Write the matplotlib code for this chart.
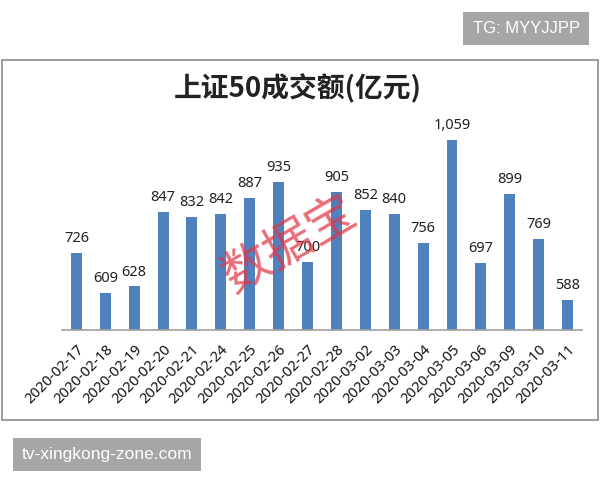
import matplotlib.pyplot as plt
from matplotlib.patches import Rectangle

# datos
dates = ['2020-02-17', '2020-02-18', '2020-02-19', '2020-02-20', '2020-02-21',
         '2020-02-24', '2020-02-25', '2020-02-26', '2020-02-27', '2020-02-28',
         '2020-03-02', '2020-03-03', '2020-03-04', '2020-03-05', '2020-03-06',
         '2020-03-09', '2020-03-10', '2020-03-11']
values = [726, 609, 628, 847, 832, 842, 887, 935, 700, 905,
          852, 840, 756, 1059, 697, 899, 769, 588]
title = '上证50成交额(亿元)'

plt.rcParams['font.family'] = ['Noto Sans', 'Noto Sans CJK SC', 'DejaVu Sans']

fig = plt.figure(figsize=(6, 4.8), dpi=100)
fig.patch.set_facecolor('white')

# marco del grafico
fig.patches.append(Rectangle((0.004, 0.125), 0.992, 0.75, transform=fig.transFigure,
                             fill=False, edgecolor='#8c8c8c', linewidth=1.2))

ax = fig.add_axes([0.1033, 0.3125, 0.8667, 0.425])
x = range(len(values))
bars = ax.bar(x, values, width=0.38, color='#4f81bd', bottom=0)
ax.set_xlim(-0.5, len(values) - 0.5)
ax.set_ylim(500, 1100)

for xi, v in zip(x, values):
    ax.annotate(f'{v:,}', (xi, v), xytext=(0, 5), textcoords='offset points',
                ha='center', va='bottom', fontsize=10.5, color='#222222',
                annotation_clip=False)

for s in ['top', 'right', 'left']:
    ax.spines[s].set_visible(False)
ax.spines['bottom'].set_color('#a0a0a0')
ax.spines['bottom'].set_linewidth(1.2)
ax.set_yticks([])
ax.set_xticks(list(x))
ax.set_xticklabels(dates, rotation=45, ha='right', rotation_mode='anchor',
                   fontsize=10.5, color='#111111')
ax.tick_params(axis='x', length=0, pad=9)

fig.text(0.497, 0.815, title, ha='center', va='center', fontsize=20,
         fontweight='bold', family=['Noto Sans CJK SC', 'DejaVu Sans'], color='#222222')

# sello rojo
fig.text(0.482, 0.49, '数据宝', ha='center', va='center', fontsize=35, rotation=30,
         color='#e03545', alpha=0.72, family=['Noto Sans CJK SC', 'DejaVu Sans'])

# marcas de agua
fig.text(0.877, 0.94, 'TG: MYYJJPP', ha='center', va='center', fontsize=12,
         color='white', family='Liberation Sans',
         bbox=dict(boxstyle='square,pad=0.55', facecolor='#a6a6a6', edgecolor='none'))
fig.text(0.178, 0.053, 'tv-xingkong-zone.com', ha='center', va='center', fontsize=12.5,
         color='white', family='Liberation Sans',
         bbox=dict(boxstyle='square,pad=0.5', facecolor='#a6a6a6', edgecolor='none'))

fig.savefig('out.png', dpi=100)
